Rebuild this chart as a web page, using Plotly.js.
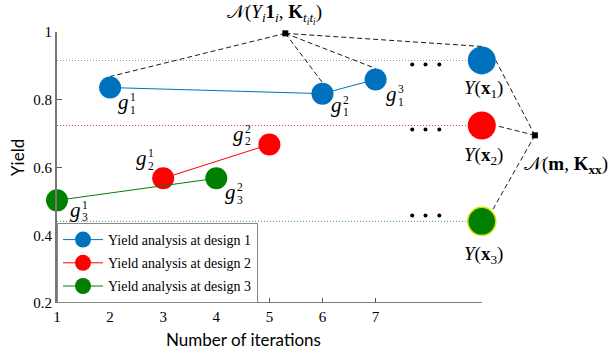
<!DOCTYPE html>
<html>
<head>
<meta charset="utf-8">
<script src="https://cdn.plot.ly/plotly-3.0.1.min.js"></script>
<style>html,body{margin:0;padding:0;background:#fff;}#chart{width:611px;height:356px;}</style>
</head>
<body>
<div id="chart"></div>
<script>
// ---- data ----
const seriesNames = ['Yield analysis at design 1', 'Yield analysis at design 2', 'Yield analysis at design 3'];
const iter1 = [2, 6, 7];
const yield1 = [0.836, 0.818, 0.860];
const iter2 = [3, 5];
const yield2 = [0.568, 0.668];
const iter3 = [1, 4];
const yield3 = [0.503, 0.568];
const finalX = 9;
const finalYield = [0.916, 0.724, 0.441];
const topNode = [5.30, 0.996];
const rightNode = [10.0, 0.695];
const dotsX = [7.69, 7.94, 8.20];
const dotsY = [0.904, 0.712, 0.458];
const xTicks = [1, 2, 3, 4, 5, 6, 7];
const yTicks = [0.2, 0.4, 0.6, 0.8, 1];
const yTickText = ['0.2', '0.4', '0.6', '0.8', '1'];

// ---- styles ----
const colors = ['#0072BD', '#FF0000', '#008000'];
const dotColors = ['#5aa6e0', '#e84848', '#3aa83a'];
const W = 611, H = 356, M = {l: 57, r: 0, t: 32, b: 53};
const xRange = [1, 1 + (W - M.l - M.r) / 53.1];
const yRange = [0.2, 1];
const pxPerX = (W - M.l - M.r) / (xRange[1] - xRange[0]);
const pxPerY = (H - M.t - M.b) / (yRange[1] - yRange[0]);
const rSmall = 11, rBig = 14;
const mathFont = 'Liberation Serif';

const iters = [iter1, iter2, iter3];
const yields = [yield1, yield2, yield3];

const traces = [];
// dotted reference lines
for (let k = 0; k < 3; k++) {
  traces.push({x: [xRange[0], finalX], y: [finalYield[k], finalYield[k]], mode: 'lines',
    line: {color: dotColors[k], width: 1, dash: '1px,2px'}, showlegend: false, hoverinfo: 'skip'});
}
// dashed connectors
const dx = [], dy = [];
for (let i = 0; i < iter1.length; i++) {
  dx.push(topNode[0], iter1[i], null); dy.push(topNode[1], yield1[i] + rSmall / pxPerY, null);
}
dx.push(topNode[0], finalX, null); dy.push(topNode[1], finalYield[0] + rBig / pxPerY, null);
dx.push(rightNode[0], finalX + rBig / pxPerX, null); dy.push(rightNode[1], finalYield[0], null);
dx.push(rightNode[0], finalX + rBig / pxPerX, null); dy.push(rightNode[1], finalYield[1], null);
dx.push(rightNode[0], finalX + 0.7 * rBig / pxPerX, null); dy.push(rightNode[1], finalYield[2] + 0.7 * rBig / pxPerY, null);
traces.push({x: dx, y: dy, mode: 'lines', line: {color: '#1a1a1a', width: 1, dash: '5px,3px'},
  showlegend: false, hoverinfo: 'skip'});
// series
for (let k = 0; k < 3; k++) {
  traces.push({x: iters[k], y: yields[k], mode: 'lines+markers', name: seriesNames[k], legendgroup: 'g' + k,
    line: {color: colors[k], width: 1}, marker: {color: colors[k], size: 22}, cliponaxis: false});
}
// final designs
traces.push({x: [finalX, finalX, finalX], y: finalYield, mode: 'markers', showlegend: false,
  marker: {color: colors, size: 28, line: {color: ['rgba(0,0,0,0)', 'rgba(0,0,0,0)', '#d4e000'], width: 1.5}},
  cliponaxis: false});
// nodes
traces.push({x: [topNode[0], rightNode[0]], y: [topNode[1], rightNode[1]], mode: 'markers', showlegend: false,
  marker: {symbol: 'square', color: '#000', size: 6}, cliponaxis: false});
// ellipsis dots
const ex = [], ey = [];
for (let k = 0; k < 3; k++) for (let j = 0; j < dotsX.length; j++) { ex.push(dotsX[j]); ey.push(dotsY[k]); }
traces.push({x: ex, y: ey, mode: 'markers', showlegend: false, marker: {color: '#000', size: 4}});

// ---- annotations ----
const anns = [];
function toPaper(px, py) {
  return [(px - M.l) / (W - M.l - M.r), (H - M.b - py) / (H - M.t - M.b)];
}
function pAnn(text, px, py, size, extra) {
  const p = toPaper(px, py);
  return Object.assign({text: text, x: p[0], y: p[1], xref: 'paper', yref: 'paper', showarrow: false,
    xanchor: 'center', yanchor: 'middle', borderpad: 0,
    font: {family: mathFont, size: size, color: '#000'}}, extra || {});
}
// g labels: [series, index, sup, sub, dxpx, baseline dypx]
const gLabels = [
  [0, 0, '1', '1', 13.5, 21.7],
  [0, 1, '2', '1', 14.2, 18],
  [0, 2, '3', '1', 15.5, 21.8],
  [1, 0, '1', '2', -21.5, -13],
  [1, 1, '2', '2', -30.7, -3.7],
  [2, 0, '1', '3', 18.6, 16.3],
  [2, 1, '2', '3', 14.3, 21]
];
gLabels.forEach(g => {
  const xv = iters[g[0]][g[1]], yv = yields[g[0]][g[1]];
  const base = {x: xv, y: yv, xref: 'x', yref: 'y', showarrow: false, xanchor: 'center', yanchor: 'middle', borderpad: 0};
  anns.push(Object.assign({}, base, {text: '<i>g</i>', font: {family: mathFont, size: 21, color: '#000'},
    xshift: g[4], yshift: -(g[5] - 7)}));
  anns.push(Object.assign({}, base, {text: g[2], font: {family: mathFont, size: 11.5, color: '#000'},
    xshift: g[4] + 9.5, yshift: -(g[5] - 12)}));
  anns.push(Object.assign({}, base, {text: g[3], font: {family: mathFont, size: 11.5, color: '#000'},
    xshift: g[4] + 9.5, yshift: -(g[5] + 0.5)}));
});
anns.push(pAnn('𝒩(<i>Y</i><sub><i>i</i></sub><b>1</b><sub><i>i</i></sub>, <b>K</b><sub><i>t</i><sub><i>i</i></sub><i>t</i><sub><i>i</i></sub></sub>)', 274, 14, 19));
anns.push(pAnn('<i>Y</i>(<b>x</b><sub>1</sub>)', 483, 89, 19));
anns.push(pAnn('<i>Y</i>(<b>x</b><sub>2</sub>)', 483, 156, 19));
anns.push(pAnn('<i>Y</i>(<b>x</b><sub>3</sub>)', 483, 255, 19));
anns.push(pAnn('𝒩(<b>m</b>, <b>K</b><sub><b>xx</b></sub>)', 566, 165, 19));
anns.push(pAnn('Number of iterations', 243, 339, 17, {font: {family: 'Lato', size: 17, color: '#000'}}));
anns.push(pAnn('Yield', 17, 158, 17, {font: {family: 'Lato', size: 17, color: '#000'}, textangle: -90}));

// bottom axis line up to x = 9
const shapes = [{type: 'line', xref: 'x', yref: 'y', x0: xRange[0], x1: finalX, y0: yRange[0], y1: yRange[0],
  line: {color: '#555', width: 1.5}}];

const layout = {
  width: W, height: H, margin: M, paper_bgcolor: '#fff', plot_bgcolor: '#fff',
  showlegend: true,
  xaxis: {range: xRange, tickvals: xTicks, ticktext: xTicks.map(String), showgrid: false, zeroline: false,
    showline: false, ticks: 'inside', ticklen: 5, tickcolor: '#555', tickwidth: 1,
    tickfont: {family: mathFont, size: 15, color: '#000'}, ticklabelstandoff: 3},
  yaxis: {range: yRange, tickvals: yTicks, ticktext: yTickText, showgrid: false,
    zeroline: false, showline: true, linecolor: '#777', linewidth: 2, ticks: 'inside', ticklen: 5,
    tickcolor: '#555', tickfont: {family: mathFont, size: 15, color: '#000'}},
  legend: {x: 0, y: 0, xanchor: 'left', yanchor: 'bottom', bgcolor: '#fff', bordercolor: '#888', borderwidth: 1,
    itemwidth: 40, tracegroupgap: 2, entrywidth: 184,
    font: {family: mathFont, size: 14, color: '#000'}},
  annotations: anns, shapes: shapes
};
Plotly.newPlot('chart', traces, layout, {staticPlot: true, displayModeBar: false});
</script>
</body>
</html>
